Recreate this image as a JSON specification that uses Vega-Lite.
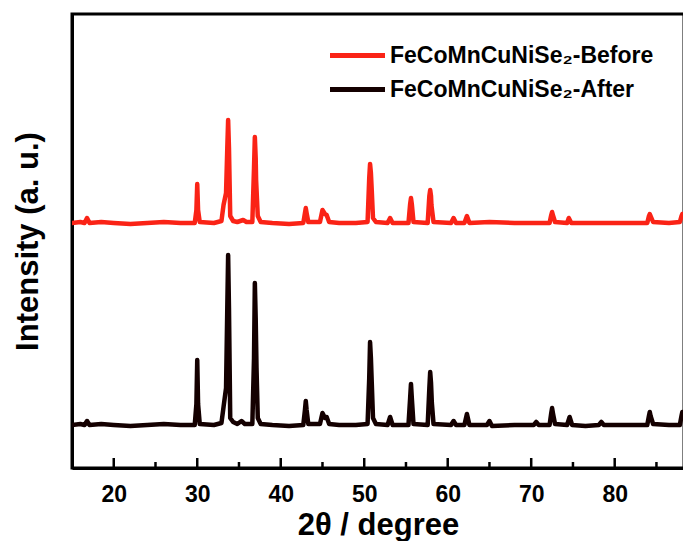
{
  "$schema": "https://vega.github.io/schema/vega-lite/v6.json",
  "width": 612,
  "height": 454,
  "autosize": {"type": "none"},
  "padding": {"left": 72, "top": 14, "right": 0, "bottom": 73},
  "background": "white",
  "config": {
    "view": {"stroke": "black", "strokeWidth": 3},
    "font": "Liberation Sans",
    "axis": {"zindex": 1, "domainColor": "black", "domainWidth": 3, "grid": false, "labelFont": "Liberation Sans", "titleFont": "Liberation Sans", "labelFontWeight": "bold", "titleFontWeight": "bold", "labelColor": "black", "titleColor": "black"}
  },
  "datasets": {
    "xrd": [
      {"t":15.0,"I":43,"s":"After"},{"t":16.0,"I":44,"s":"After"},{"t":16.5,"I":43,"s":"After"},{"t":16.8,"I":47,"s":"After"},{"t":17.1,"I":43,"s":"After"},{"t":18.5,"I":44,"s":"After"},{"t":20,"I":43,"s":"After"},{"t":22,"I":42,"s":"After"},{"t":24,"I":43,"s":"After"},{"t":26,"I":44,"s":"After"},{"t":28,"I":43,"s":"After"},{"t":29.7,"I":43,"s":"After"},{"t":29.9,"I":64,"s":"After"},{"t":30.0,"I":108,"s":"After"},{"t":30.1,"I":64,"s":"After"},{"t":30.3,"I":44,"s":"After"},{"t":32,"I":43,"s":"After"},{"t":32.9,"I":45,"s":"After"},{"t":33.15,"I":61,"s":"After"},{"t":33.45,"I":80,"s":"After"},{"t":33.6,"I":160,"s":"After"},{"t":33.7,"I":213,"s":"After"},{"t":33.8,"I":160,"s":"After"},{"t":33.95,"I":50,"s":"After"},{"t":34.3,"I":46,"s":"After"},{"t":34.8,"I":44,"s":"After"},{"t":35.3,"I":47,"s":"After"},{"t":35.7,"I":44,"s":"After"},{"t":36.6,"I":44,"s":"After"},{"t":36.8,"I":110,"s":"After"},{"t":36.9,"I":185,"s":"After"},{"t":37.0,"I":150,"s":"After"},{"t":37.1,"I":100,"s":"After"},{"t":37.25,"I":50,"s":"After"},{"t":37.6,"I":44,"s":"After"},{"t":39,"I":43,"s":"After"},{"t":41,"I":42,"s":"After"},{"t":42.7,"I":43,"s":"After"},{"t":42.9,"I":58,"s":"After"},{"t":43.0,"I":67,"s":"After"},{"t":43.1,"I":58,"s":"After"},{"t":43.3,"I":44,"s":"After"},{"t":44.7,"I":44,"s":"After"},{"t":45.0,"I":55,"s":"After"},{"t":45.3,"I":50,"s":"After"},{"t":45.5,"I":51,"s":"After"},{"t":45.8,"I":44,"s":"After"},{"t":47,"I":43,"s":"After"},{"t":49,"I":43,"s":"After"},{"t":50.4,"I":44,"s":"After"},{"t":50.6,"I":90,"s":"After"},{"t":50.7,"I":126,"s":"After"},{"t":50.8,"I":110,"s":"After"},{"t":50.9,"I":86,"s":"After"},{"t":51.05,"I":50,"s":"After"},{"t":51.4,"I":44,"s":"After"},{"t":52.8,"I":43,"s":"After"},{"t":53.1,"I":51,"s":"After"},{"t":53.4,"I":43,"s":"After"},{"t":55.3,"I":43,"s":"After"},{"t":55.5,"I":70,"s":"After"},{"t":55.6,"I":84,"s":"After"},{"t":55.7,"I":70,"s":"After"},{"t":55.9,"I":44,"s":"After"},{"t":57.6,"I":43,"s":"After"},{"t":57.8,"I":80,"s":"After"},{"t":57.9,"I":96,"s":"After"},{"t":58.0,"I":85,"s":"After"},{"t":58.1,"I":65,"s":"After"},{"t":58.3,"I":44,"s":"After"},{"t":60.4,"I":43,"s":"After"},{"t":60.7,"I":47,"s":"After"},{"t":61.0,"I":43,"s":"After"},{"t":62.0,"I":43,"s":"After"},{"t":62.3,"I":54,"s":"After"},{"t":62.6,"I":43,"s":"After"},{"t":64.7,"I":43,"s":"After"},{"t":65.0,"I":47,"s":"After"},{"t":65.3,"I":42,"s":"After"},{"t":68,"I":43,"s":"After"},{"t":70.3,"I":43,"s":"After"},{"t":70.6,"I":46,"s":"After"},{"t":70.9,"I":43,"s":"After"},{"t":72.2,"I":43,"s":"After"},{"t":72.4,"I":55,"s":"After"},{"t":72.5,"I":60,"s":"After"},{"t":72.6,"I":55,"s":"After"},{"t":72.85,"I":44,"s":"After"},{"t":74.3,"I":43,"s":"After"},{"t":74.6,"I":51,"s":"After"},{"t":74.9,"I":43,"s":"After"},{"t":76.5,"I":42,"s":"After"},{"t":78.1,"I":43,"s":"After"},{"t":78.4,"I":46,"s":"After"},{"t":78.7,"I":43,"s":"After"},{"t":81,"I":43,"s":"After"},{"t":83.9,"I":43,"s":"After"},{"t":84.1,"I":52,"s":"After"},{"t":84.2,"I":56,"s":"After"},{"t":84.3,"I":52,"s":"After"},{"t":84.6,"I":44,"s":"After"},{"t":86.5,"I":43,"s":"After"},{"t":87.8,"I":43,"s":"After"},{"t":88.0,"I":52,"s":"After"},{"t":88.1,"I":56,"s":"After"},{"t":88.3,"I":55,"s":"After"},
      {"t":15.0,"I":245,"s":"Before"},{"t":16.0,"I":246,"s":"Before"},{"t":16.5,"I":245,"s":"Before"},{"t":16.8,"I":250,"s":"Before"},{"t":17.1,"I":245,"s":"Before"},{"t":18.5,"I":246,"s":"Before"},{"t":20,"I":245,"s":"Before"},{"t":22,"I":244,"s":"Before"},{"t":24,"I":245,"s":"Before"},{"t":26,"I":246,"s":"Before"},{"t":28,"I":245,"s":"Before"},{"t":29.7,"I":245,"s":"Before"},{"t":29.9,"I":258,"s":"Before"},{"t":30.0,"I":284,"s":"Before"},{"t":30.1,"I":258,"s":"Before"},{"t":30.3,"I":246,"s":"Before"},{"t":32,"I":245,"s":"Before"},{"t":32.9,"I":247,"s":"Before"},{"t":33.15,"I":263,"s":"Before"},{"t":33.45,"I":275,"s":"Before"},{"t":33.6,"I":320,"s":"Before"},{"t":33.7,"I":348,"s":"Before"},{"t":33.8,"I":320,"s":"Before"},{"t":33.95,"I":252,"s":"Before"},{"t":34.3,"I":247,"s":"Before"},{"t":34.8,"I":246,"s":"Before"},{"t":35.5,"I":248,"s":"Before"},{"t":35.9,"I":246,"s":"Before"},{"t":36.6,"I":246,"s":"Before"},{"t":36.8,"I":300,"s":"Before"},{"t":36.9,"I":331,"s":"Before"},{"t":37.0,"I":310,"s":"Before"},{"t":37.05,"I":288,"s":"Before"},{"t":37.25,"I":252,"s":"Before"},{"t":37.6,"I":246,"s":"Before"},{"t":39,"I":245,"s":"Before"},{"t":41,"I":244,"s":"Before"},{"t":42.7,"I":245,"s":"Before"},{"t":42.9,"I":255,"s":"Before"},{"t":43.0,"I":260,"s":"Before"},{"t":43.1,"I":255,"s":"Before"},{"t":43.3,"I":246,"s":"Before"},{"t":44.7,"I":246,"s":"Before"},{"t":45.0,"I":258,"s":"Before"},{"t":45.3,"I":254,"s":"Before"},{"t":45.5,"I":253,"s":"Before"},{"t":45.8,"I":246,"s":"Before"},{"t":47,"I":245,"s":"Before"},{"t":49,"I":245,"s":"Before"},{"t":50.4,"I":246,"s":"Before"},{"t":50.6,"I":290,"s":"Before"},{"t":50.7,"I":304,"s":"Before"},{"t":50.8,"I":295,"s":"Before"},{"t":50.9,"I":278,"s":"Before"},{"t":51.05,"I":250,"s":"Before"},{"t":51.4,"I":246,"s":"Before"},{"t":52.8,"I":245,"s":"Before"},{"t":53.1,"I":250,"s":"Before"},{"t":53.4,"I":245,"s":"Before"},{"t":55.3,"I":245,"s":"Before"},{"t":55.5,"I":264,"s":"Before"},{"t":55.6,"I":270,"s":"Before"},{"t":55.7,"I":264,"s":"Before"},{"t":55.9,"I":246,"s":"Before"},{"t":57.6,"I":245,"s":"Before"},{"t":57.8,"I":272,"s":"Before"},{"t":57.9,"I":278,"s":"Before"},{"t":58.0,"I":272,"s":"Before"},{"t":58.05,"I":263,"s":"Before"},{"t":58.3,"I":246,"s":"Before"},{"t":60.4,"I":245,"s":"Before"},{"t":60.7,"I":250,"s":"Before"},{"t":61.0,"I":245,"s":"Before"},{"t":62.0,"I":245,"s":"Before"},{"t":62.3,"I":252,"s":"Before"},{"t":62.6,"I":245,"s":"Before"},{"t":65,"I":246,"s":"Before"},{"t":68,"I":245,"s":"Before"},{"t":70,"I":245,"s":"Before"},{"t":72.2,"I":245,"s":"Before"},{"t":72.4,"I":253,"s":"Before"},{"t":72.5,"I":256,"s":"Before"},{"t":72.6,"I":253,"s":"Before"},{"t":72.85,"I":246,"s":"Before"},{"t":74.3,"I":245,"s":"Before"},{"t":74.5,"I":250,"s":"Before"},{"t":74.8,"I":245,"s":"Before"},{"t":78,"I":245,"s":"Before"},{"t":81,"I":245,"s":"Before"},{"t":83.9,"I":245,"s":"Before"},{"t":84.1,"I":252,"s":"Before"},{"t":84.2,"I":254,"s":"Before"},{"t":84.3,"I":252,"s":"Before"},{"t":84.6,"I":246,"s":"Before"},{"t":86.5,"I":245,"s":"Before"},{"t":87.8,"I":246,"s":"Before"},{"t":88.0,"I":252,"s":"Before"},{"t":88.1,"I":254,"s":"Before"},{"t":88.3,"I":253,"s":"Before"}
    ],
    "major": [{"v":20},{"v":30},{"v":40},{"v":50},{"v":60},{"v":70},{"v":80}],
    "minor": [{"v":25},{"v":35},{"v":45},{"v":55},{"v":65},{"v":75},{"v":85}]
  },
  "layer": [
    {
      "data": {"name": "xrd"},
      "mark": {"type": "line", "strokeWidth": 4.5, "strokeJoin": "round", "strokeCap": "round", "clip": true},
      "encoding": {
        "x": {
          "field": "t", "type": "quantitative",
          "scale": {"domain": [15, 88.3], "nice": false, "zero": false},
          "axis": {
            "title": "2θ / degree", "titleFontSize": 31, "titlePadding": 4,
            "values": [20, 30, 40, 50, 60, 70, 80],
            "labelFontSize": 23, "labelPadding": 15,
            "ticks": false
          }
        },
        "y": {
          "field": "I", "type": "quantitative",
          "scale": {"domain": [0, 454], "nice": false},
          "axis": {"title": "Intensity (a. u.)", "titleFontSize": 31, "titlePadding": 28, "ticks": false, "labels": false}
        },
        "color": {
          "field": "s", "type": "nominal",
          "scale": {"domain": ["Before", "After"], "range": ["#FA2316", "#140000"]},
          "legend": {
            "title": null, "orient": "none", "legendX": 272, "legendY": 28, "padding": 0,
            "symbolType": "M-2.5,0H2.5", "symbolSize": 484, "symbolStrokeWidth": 5,
            "labelFontSize": 23, "labelFontWeight": "bold", "labelFont": "Liberation Sans", "labelColor": "black",
            "labelOffset": 19, "rowPadding": 8, "labelLimit": 400,
            "labelExpr": "'FeCoMnCuNiSe₂-' + datum.label"
          }
        }
      }
    },
    {
      "data": {"name": "major"},
      "mark": {"type": "rule", "color": "black", "strokeWidth": 2.5},
      "encoding": {
        "x": {"field": "v", "type": "quantitative"},
        "y": {"datum": 0, "type": "quantitative"},
        "y2": {"datum": 10}
      }
    },
    {
      "data": {"name": "minor"},
      "mark": {"type": "rule", "color": "black", "strokeWidth": 2.5},
      "encoding": {
        "x": {"field": "v", "type": "quantitative"},
        "y": {"datum": 0, "type": "quantitative"},
        "y2": {"datum": 6}
      }
    }
  ]
}
